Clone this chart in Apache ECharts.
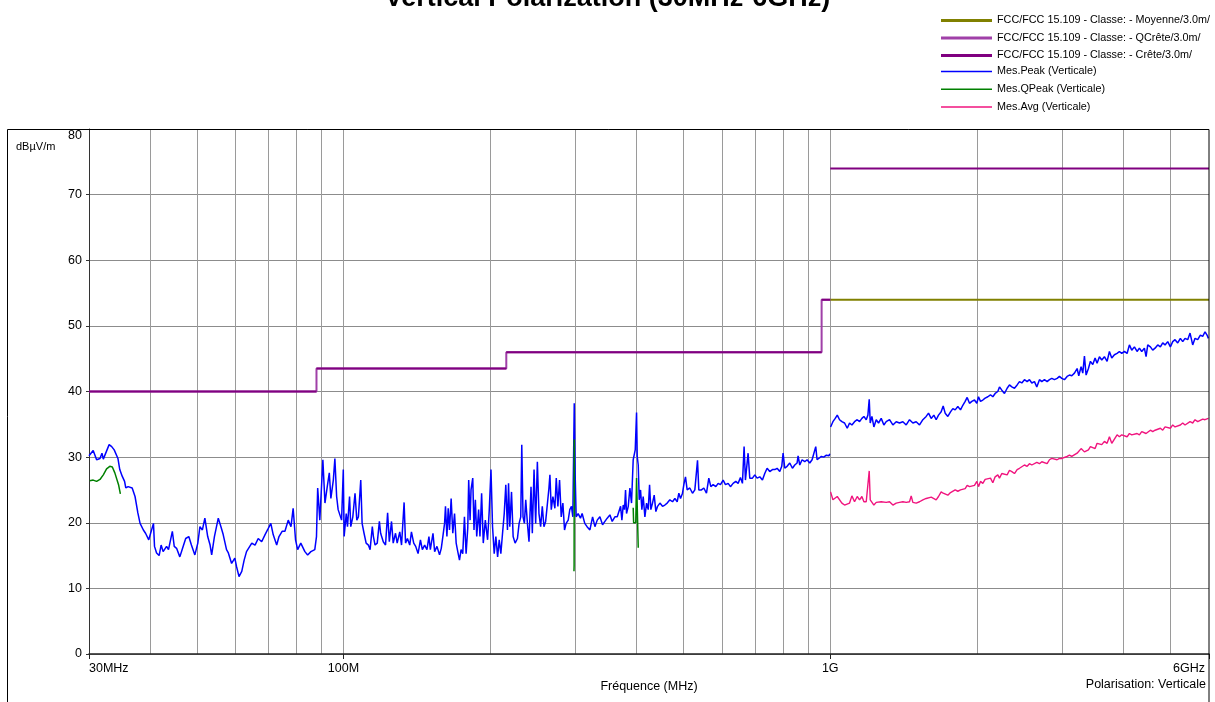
<!DOCTYPE html>
<html>
<head>
<meta charset="utf-8">
<script src="https://cdn.jsdelivr.net/npm/echarts@6/dist/echarts.min.js"></script>
<style>html,body{margin:0;padding:0;background:#fff}#c{width:1215px;height:702px}</style>
</head>
<body>
<div id="c"></div>
<script>
// ---- Limit lines (MHz, dBµV/m) ----
const limitAvg = [[1000,54],[6000,54]];
const limitQPeak = [[30,40],[88,40],[88,43.5],[216,43.5],[216,46],[960,46],[960,54],[1000,54]];
const limitPeak = [[30,40],[88,40],[88,null],[88,43.5],[216,43.5],[216,null],[216,46],[960,46],[960,null],[960,54],[1000,54],[1000,null],[1000,74],[6000,74]];

// ---- Mes.Peak (Verticale) ----
const peak30to100 = [[30.0,30.2],[30.6,31.0],[31.1,29.6],[31.6,29.8],[31.9,30.6],[32.1,29.7],[33.0,31.9],[33.4,31.6],[33.8,31.1],[34.4,29.8],[34.7,28.1],[35.1,27.1],[35.5,26.3],[35.7,25.3],[36.1,25.5],[36.8,25.3],[37.3,24.0],[37.8,21.5],[38.2,19.9],[38.8,18.9],[39.2,18.4],[39.8,17.4],[40.7,19.9],[40.9,16.4],[41.3,15.4],[41.8,15.0],[42.2,16.6],[42.6,15.6],[43.3,16.4],[43.7,15.9],[44.5,18.7],[44.9,16.4],[45.4,16.1],[46.1,14.8],[46.6,15.9],[47.4,17.6],[48.1,17.9],[48.7,16.6],[49.5,15.1],[50.2,16.9],[50.7,19.4],[51.3,18.9],[51.9,20.7],[52.6,17.9],[53.2,16.6],[53.6,15.1],[54.3,17.9],[55.3,20.7],[56.0,19.4],[56.6,18.2],[57.5,15.9],[58.0,15.4],[58.9,13.8],[59.8,14.6],[60.3,13.3],[61.0,11.8],[61.8,12.6],[62.5,14.3],[63.2,15.6],[63.7,15.9],[64.8,16.9],[65.8,16.6],[66.8,17.6],[67.9,17.1],[69.0,18.2],[69.8,18.9],[70.9,19.9],[71.7,18.2],[72.9,16.6],[73.7,17.9],[74.8,18.7],[75.8,18.7],[77.0,20.4],[78.0,19.4],[78.8,22.2],[79.7,17.4],[80.5,15.9],[81.7,16.9],[83.3,15.6],[84.4,15.1],[85.7,15.6],[87.3,15.9],[88.0,17.9],[88.5,25.3],[89.4,20.4],[90.7,29.6],[91.6,23.0],[92.6,25.5],[93.5,27.6],[94.2,23.7],[95.3,26.5],[96.0,29.8],[96.8,24.0],[97.5,22.0],[99.1,20.4],[99.9,28.1],[100.3,17.9]];
const peak100to320 = [[100.5,17.9],[101.3,21.4],[101.9,19.4],[102.9,24.0],[103.5,19.4],[104.5,20.9],[105.6,24.5],[106.5,20.4],[107.3,20.9],[108.5,26.5],[109.2,19.9],[110.2,18.4],[111.3,16.9],[112.5,16.6],[113.4,15.9],[114.6,19.4],[115.2,17.9],[116.1,16.6],[117.3,16.9],[118.5,20.2],[119.2,18.4],[120.7,17.1],[122.0,16.6],[123.2,21.5],[124.2,17.1],[125.5,20.2],[126.5,16.9],[127.9,18.4],[128.9,16.9],[130.5,18.6],[131.6,16.6],[133.2,23.1],[134.1,16.9],[135.3,17.6],[136.8,16.6],[137.9,18.6],[139.4,16.9],[140.7,16.4],[142.3,15.3],[143.9,17.4],[145.2,15.9],[146.8,16.6],[148.4,15.9],[149.8,17.9],[150.8,15.9],[152.7,18.4],[153.9,15.6],[155.6,16.4],[157.5,15.1],[158.8,16.1],[160.0,17.9],[161.3,19.9],[162.0,22.5],[163.1,17.9],[164.1,22.2],[165.1,18.9],[166.4,23.7],[167.7,18.4],[169.1,21.4],[170.4,16.9],[171.7,15.6],[173.1,14.3],[174.4,15.9],[175.8,15.3],[177.2,20.9],[178.6,15.3],[180.0,19.2],[180.8,26.5],[182.0,20.4],[182.8,25.0],[184.3,26.8],[185.4,18.9],[186.6,23.5],[187.8,17.9],[189.5,22.0],[190.7,17.9],[192.2,24.5],[193.7,16.9],[195.6,20.4],[197.7,17.4],[199.3,22.0],[200.9,28.1],[202.4,19.4],[204.0,15.3],[205.6,17.9],[207.3,14.8],[208.9,17.4],[210.5,15.3],[212.2,18.4],[213.9,21.4],[215.5,25.8],[217.2,18.9],[218.3,26.0],[219.6,19.4],[221.4,24.7],[223.1,17.9],[225.2,16.9],[227.7,17.6],[229.5,19.9],[231.3,20.9],[232.4,31.9],[233.8,20.9],[235.3,19.9],[236.8,23.5],[238.7,19.9],[240.5,17.1],[242.8,25.5],[244.3,18.4],[246.3,28.1],[248.2,19.9],[250.2,29.3],[252.1,21.4],[254.1,19.4],[256.1,22.5],[258.1,19.4],[260.2,20.2],[262.2,19.9],[264.3,25.3],[265.5,27.3],[267.2,22.0],[269.3,24.0],[271.8,22.2],[273.6,26.8],[275.7,22.5],[277.9,26.5],[280.1,20.9],[282.3,23.0],[284.5,18.9],[286.7,19.9],[289.5,20.4],[291.7,22.0],[294.0,22.5],[295.9,20.9],[297.9,38.2],[299.2,27.3],[300.6,20.9],[303.4,21.4],[306.8,20.7],[309.2,21.4],[313.1,19.9],[316.5,19.4]];
const peak320to1000 = [[320.8,18.9],[324.9,20.9],[328.5,19.4],[332.1,20.4],[336.3,20.9],[340.6,19.7],[344.4,20.2],[348.2,20.7],[352.6,21.2],[356.5,20.2],[361.1,20.9],[365.1,20.9],[368.5,21.2],[370.9,22.5],[373.2,20.4],[375.6,22.7],[377.9,22.0],[379.7,25.0],[381.5,21.4],[384.6,22.5],[387.6,25.3],[390.6,23.0],[393.7,29.6],[397.5,31.1],[400.0,36.8],[401.3,30.1],[403.2,28.8],[405.1,23.5],[407.6,25.0],[410.2,22.0],[412.8,24.0],[416.1,20.9],[419.4,23.0],[422.7,22.0],[425.4,25.8],[428.0,22.0],[431.4,23.0],[434.8,24.2],[438.3,21.7],[441.8,22.5],[446.7,23.0],[452.3,22.5],[457.3,22.7],[462.4,23.0],[468.3,23.5],[474.2,23.2],[479.5,23.7],[484.8,23.2],[488.6,24.5],[492.5,23.7],[497.1,24.5],[500.3,25.8],[504.2,27.0],[508.2,25.0],[514.6,25.3],[521.2,24.5],[527.0,25.0],[531.2,25.3],[533.7,29.5],[537.0,25.0],[543.8,25.0],[549.9,25.3],[556.8,24.5],[563.0,26.8],[568.4,25.5],[574.7,25.8],[582.0,25.5],[588.4,26.0],[594.9,25.8],[602.5,26.5],[609.2,25.8],[616.9,26.0],[623.7,25.5],[631.6,26.0],[639.6,26.3],[646.7,26.0],[653.9,26.9],[660.1,26.0],[665.3,31.6],[669.5,26.5],[678.0,30.6],[683.4,26.8],[692.1,26.8],[699.8,27.3],[707.5,26.8],[716.5,27.0],[725.6,26.5],[733.6,27.5],[741.8,28.3],[751.2,27.8],[760.7,28.1],[769.2,28.1],[777.7,28.3],[787.6,27.8],[795.0,28.6],[800.1,30.6],[806.4,28.3],[815.3,28.6],[825.7,29.1],[836.2,28.3],[845.4,28.8],[854.8,29.1],[858.9,30.2],[865.7,28.8],[875.3,29.6],[886.4,29.3],[896.2,29.6],[907.6,29.1],[917.7,29.6],[926.4,29.8],[933.7,31.6],[939.6,29.6],[948.5,29.8],[959.0,30.1],[969.6,30.0],[982.0,30.3],[994.5,30.2],[997.6,30.5]];
const peak1to6G = [[1001.6,34.6],[1012.7,35.4],[1023.9,35.9],[1033.7,36.4],[1045.1,35.7],[1056.7,35.4],[1070.1,35.2],[1083.7,34.4],[1095.7,35.2],[1107.9,34.9],[1121.9,35.4],[1136.2,35.7],[1148.8,35.4],[1161.5,35.9],[1172.6,36.2],[1185.6,35.7],[1194.9,36.4],[1202.5,38.8],[1208.2,35.2],[1217.8,36.2],[1229.3,34.6],[1243.0,35.7],[1256.7,35.2],[1272.7,35.9],[1288.8,34.9],[1303.1,35.4],[1323.8,35.7],[1344.9,34.9],[1366.2,35.4],[1387.9,35.2],[1410.0,35.4],[1432.4,34.9],[1455.1,35.7],[1478.2,35.2],[1501.7,35.4],[1525.6,34.9],[1549.8,35.7],[1574.4,36.2],[1591.9,36.7],[1612.1,35.9],[1632.5,36.4],[1650.6,35.7],[1668.9,36.4],[1690.1,36.9],[1706.2,37.8],[1722.4,36.7],[1744.2,36.2],[1766.4,36.9],[1786.0,37.4],[1805.8,37.2],[1828.7,37.7],[1851.9,37.2],[1872.4,37.9],[1893.2,38.5],[1911.2,39.1],[1932.4,38.2],[1953.8,38.5],[1978.6,38.7],[2000.6,38.2],[2016.4,39.2],[2035.6,38.5],[2058.1,38.7],[2081.0,39.0],[2107.4,39.2],[2134.1,39.5],[2157.8,39.2],[2181.7,39.7],[2209.4,40.0],[2226.9,40.7],[2251.6,40.2],[2280.2,39.7],[2309.1,40.5],[2334.7,41.0],[2360.6,40.7],[2390.6,40.5],[2420.9,41.0],[2447.7,41.5],[2474.9,41.3],[2506.3,41.8],[2538.1,41.5],[2566.3,41.8],[2594.7,41.3],[2627.6,41.5],[2656.8,40.7],[2690.5,41.8],[2720.3,41.5],[2754.9,41.8],[2789.8,41.5],[2820.8,41.8],[2852.1,42.0],[2888.2,41.8],[2924.9,42.0],[2957.3,42.3],[2990.1,42.0],[3028.1,41.8],[3066.5,42.3],[3100.5,42.5],[3134.9,42.4],[3174.7,42.8],[3215.0,43.5],[3240.4,42.4],[3276.4,43.8],[3302.3,42.8],[3328.4,45.4],[3354.7,42.5],[3391.9,43.5],[3424.2,44.6],[3462.2,44.1],[3500.6,45.1],[3533.8,44.3],[3573.0,45.3],[3612.7,44.8],[3658.5,45.3],[3704.9,44.6],[3746.0,46.1],[3787.6,45.1],[3835.6,45.6],[3884.3,45.8],[3927.4,46.1],[3970.9,45.8],[4021.3,46.1],[4072.4,45.8],[4117.5,47.1],[4163.2,46.3],[4216.0,46.8],[4269.5,46.1],[4316.9,46.6],[4364.8,46.1],[4420.2,46.6],[4455.1,45.3],[4490.4,47.1],[4547.4,46.8],[4597.8,46.3],[4648.8,46.6],[4707.8,47.1],[4767.5,46.8],[4820.4,47.4],[4873.9,47.1],[4935.7,47.6],[4998.3,46.8],[5053.8,47.6],[5109.8,47.9],[5174.7,47.4],[5240.3,48.1],[5298.5,47.6],[5357.2,48.1],[5425.2,47.9],[5485.4,48.9],[5555.0,47.1],[5616.6,48.1],[5687.9,47.9],[5760.1,48.6],[5823.9,48.4],[5888.5,49.1],[5944.5,48.6],[5982.1,48.1]];

// ---- Mes.QPeak (Verticale) ----
const qpeakLow = [[30.1,26.4],[30.6,26.5],[31.1,26.3],[31.6,26.6],[32.1,27.3],[32.6,28.2],[33.1,28.6],[33.5,28.5],[33.9,27.6],[34.5,25.8],[34.8,24.4]];
const qpeak300 = [[297.5,12.6],[297.7,13.5],[297.9,32.7],[298.1,21.0]];
const qpeak400 = [[393.7,22.3],[394.5,20.0],[398.5,20.0],[400.0,26.8],[403.2,16.2]];

// ---- Mes.Avg (Verticale) ----
const avg1to6G = [[1001.6,24.7],[1012.7,23.5],[1033.7,24.0],[1056.7,23.0],[1070.1,22.7],[1095.7,23.0],[1107.9,24.1],[1121.9,23.2],[1136.2,24.0],[1148.8,23.5],[1161.5,24.0],[1172.6,23.2],[1185.6,23.2],[1194.9,23.3],[1202.5,27.9],[1208.2,23.5],[1229.3,22.7],[1243.0,23.1],[1272.7,23.2],[1303.1,23.1],[1323.8,23.2],[1344.9,22.7],[1366.2,23.0],[1387.9,23.1],[1410.0,23.2],[1432.4,23.1],[1455.1,23.2],[1466.6,24.1],[1478.2,23.1],[1501.7,23.0],[1525.6,23.2],[1549.8,23.5],[1574.4,23.7],[1612.1,23.9],[1650.6,23.5],[1668.9,24.0],[1690.1,24.7],[1706.2,24.5],[1744.2,24.2],[1766.4,24.6],[1805.8,25.0],[1828.7,24.8],[1851.9,25.0],[1893.2,25.2],[1911.2,25.7],[1932.4,25.5],[1978.6,25.7],[2000.6,26.3],[2016.4,25.5],[2035.6,26.3],[2058.1,26.0],[2081.0,26.6],[2134.1,26.8],[2157.8,26.1],[2181.7,27.0],[2209.4,27.3],[2226.9,26.8],[2251.6,27.5],[2309.1,27.3],[2334.7,28.0],[2360.6,27.8],[2390.6,27.5],[2420.9,28.1],[2447.7,28.3],[2506.3,28.8],[2538.1,28.6],[2566.3,29.0],[2594.7,28.8],[2656.8,29.2],[2690.5,29.0],[2720.3,29.3],[2789.8,29.0],[2820.8,29.6],[2852.1,29.8],[2924.9,29.6],[2957.3,29.8],[2990.1,29.8],[3066.5,30.1],[3100.5,30.3],[3134.9,30.1],[3215.0,30.6],[3240.4,30.3],[3276.4,31.3],[3328.4,30.8],[3391.9,31.1],[3424.2,31.6],[3500.6,31.3],[3533.8,32.1],[3612.7,31.9],[3658.5,32.4],[3704.9,32.1],[3746.0,33.1],[3787.6,32.1],[3884.3,33.4],[3927.4,33.1],[3970.9,33.4],[4072.4,33.1],[4117.5,33.6],[4163.2,33.4],[4269.5,33.6],[4316.9,33.4],[4364.8,33.9],[4455.1,33.6],[4547.4,34.1],[4597.8,33.9],[4648.8,34.1],[4767.5,34.4],[4820.4,34.1],[4873.9,34.6],[4998.3,34.4],[5053.8,34.9],[5109.8,34.6],[5240.3,34.9],[5298.5,35.2],[5357.2,34.9],[5485.4,35.4],[5555.0,35.2],[5616.6,35.7],[5687.9,35.4],[5823.9,35.8],[5888.5,35.7],[5982.1,35.9]];

// ---- Axis ticks / labels ----
const gridFreqs = [40,50,60,70,80,90,100,200,300,400,500,600,700,800,900,1000,2000,3000,4000,5000];
const labelFreqs = [30,100,1000,6000];
const labelTexts = {30:'30MHz',100:'100M',1000:'1G',6000:'{r|6GHz}'};

const NAMES = {
  avg: 'FCC/FCC 15.109 - Classe: - Moyenne/3.0m/',
  qp: 'FCC/FCC 15.109 - Classe: - QCrête/3.0m/',
  pk: 'FCC/FCC 15.109 - Classe: - Crête/3.0m/',
  mpk: 'Mes.Peak (Verticale)',
  mqp: 'Mes.QPeak (Verticale)',
  mavg: 'Mes.Avg (Verticale)'
};
const FONT = 'Liberation Sans, Arial, Helvetica, sans-serif';
const gap = [[1000,null]];
const nul = [[100,null]];

const chart = echarts.init(document.getElementById('c'), null, {renderer:'canvas'});
chart.setOption({
  animation: false,
  backgroundColor: '#fff',
  textStyle: {fontFamily: FONT},
  title: {
    text: 'Vertical Polarization (30MHz-6GHz)',
    left: 'center', top: -15, padding: 0,
    textStyle: {fontSize: 27, fontWeight: 'bold', color: '#000', fontFamily: FONT}
  },
  legend: [
    {
      data: [NAMES.avg, NAMES.qp, NAMES.pk],
      orient: 'vertical', left: 941, top: 14.5, padding: 0,
      itemWidth: 51, itemHeight: 3, itemGap: 5.5, icon: 'rect', selectedMode: false,
      textStyle: {fontSize: 10.8, lineHeight: 12, color: '#000', fontFamily: FONT}
    },
    {
      data: [NAMES.mpk, NAMES.mqp, NAMES.mavg],
      orient: 'vertical', left: 941, top: 65.5, padding: 0,
      itemWidth: 51, itemHeight: 1.5, itemGap: 5.8, icon: 'rect', selectedMode: false,
      textStyle: {fontSize: 10.8, lineHeight: 12, color: '#000', fontFamily: FONT}
    }
  ],
  grid: {left: 89, right: 6, top: 129, bottom: 48, containLabel: false},
  xAxis: [
    {
      type: 'log', logBase: 10, min: 30, max: 6000, position: 'bottom',
      axisLine: {show: false},
      axisTick: {show: false, customValues: gridFreqs},
      axisLabel: {show: false},
      splitLine: {show: true, lineStyle: {color: '#9a9a9a', width: 1}}
    },
    {
      type: 'log', logBase: 10, min: 30, max: 6000, position: 'bottom',
      axisLine: {show: true, onZero: false, lineStyle: {color: '#222', width: 1.5}},
      axisTick: {show: true, length: 5, customValues: labelFreqs, lineStyle: {color: '#222'}},
      axisLabel: {
        customValues: labelFreqs, margin: 8, fontSize: 12.5, color: '#000', fontFamily: FONT,
        alignMinLabel: 'left', alignMaxLabel: 'right',
        rich: {r: {fontSize: 12.5, color: '#000', fontFamily: FONT, padding: [0, 4, 0, 0]}},
        formatter: v => labelTexts[Math.round(v)] || ''
      },
      splitLine: {show: false},
      name: 'Fréquence (MHz)', nameLocation: 'middle', nameGap: 23,
      nameTextStyle: {fontSize: 12.5, color: '#000', fontFamily: FONT}
    }
  ],
  yAxis: {
    type: 'value', min: 0, max: 80, interval: 10,
    axisLine: {show: true, lineStyle: {color: '#333', width: 1}},
    axisTick: {show: true, length: 3, lineStyle: {color: '#333'}},
    axisLabel: {fontSize: 12.5, color: '#000', fontFamily: FONT, margin: 7, verticalAlign: 'middle', padding: [0, 0, 8, 0], verticalAlignMaxLabel: 'top'},
    splitLine: {show: true, lineStyle: {color: '#8c8c8c', width: 1}}
  },
  graphic: [
    {type: 'rect', silent: true, z: 100, shape: {x: 7.5, y: 129.5, width: 1201.5, height: 600}, style: {fill: 'none', stroke: '#000', lineWidth: 1}},
    {type: 'text', left: 16, top: 141, style: {text: 'dBµV/m', fontSize: 11, fill: '#000', fontFamily: FONT}},
    {type: 'text', right: 9, top: 678, style: {text: 'Polarisation: Verticale', fontSize: 12.5, fill: '#000', fontFamily: FONT}}
  ],
  series: [
    {name: NAMES.avg, type: 'line', xAxisIndex: 0, data: limitAvg, color: '#808000', showSymbol: false, lineStyle: {width: 2}, z: 3},
    {name: NAMES.qp, type: 'line', xAxisIndex: 0, data: limitQPeak, color: '#a040a8', showSymbol: false, lineStyle: {width: 2}, z: 3},
    {name: NAMES.pk, type: 'line', xAxisIndex: 0, data: limitPeak, color: '#800080', showSymbol: false, connectNulls: false, lineStyle: {width: 2}, z: 4},
    {name: NAMES.mpk, type: 'line', xAxisIndex: 0, data: peak30to100.concat(peak100to320, peak320to1000, gap, peak1to6G), color: '#0000ff', showSymbol: false, connectNulls: false, lineStyle: {width: 1.5}, z: 5},
    {name: NAMES.mqp, type: 'line', xAxisIndex: 0, data: qpeakLow.concat(nul, qpeak300, [[350,null]], qpeak400), color: '#008000', showSymbol: false, connectNulls: false, lineStyle: {width: 1.5}, z: 6},
    {name: NAMES.mavg, type: 'line', xAxisIndex: 0, data: avg1to6G, color: '#f0147e', showSymbol: false, lineStyle: {width: 1.4}, z: 5}
  ]
});
</script>
</body>
</html>
